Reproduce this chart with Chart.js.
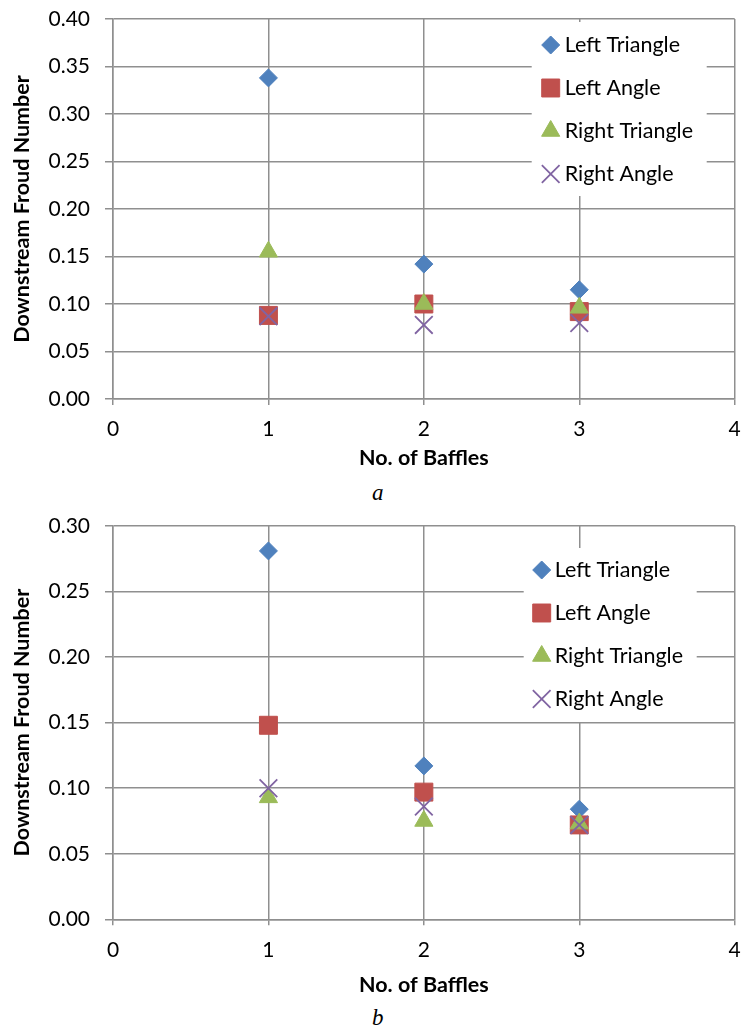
<!DOCTYPE html>
<html>
<head>
<meta charset="utf-8">
<script src="https://cdn.jsdelivr.net/npm/chart.js@4.4.1/dist/chart.umd.min.js"></script>
<style>
  body { margin: 0; background: #fff; width: 749px; height: 1032px; position: relative; overflow: hidden; }
  .panel { position: absolute; left: 0; width: 749px; }
  .cap { position: absolute; font-family: 'Liberation Serif', serif; font-style: italic; font-size: 23px; line-height: 23px; color: #000; }
</style>
</head>
<body>
<div class="panel" style="top:0;height:475px"><canvas id="chartA" width="749" height="475"></canvas></div>
<div class="cap" style="left:372px;top:481px">a</div>
<div class="panel" style="top:507px;height:495px"><canvas id="chartB" width="749" height="495"></canvas></div>
<div class="cap" style="left:372px;top:1006px">b</div>

<script>
// x values (number of baffles) and series names
const baffles = [1, 2, 3];
const seriesNames = ['Left Triangle', 'Left Angle', 'Right Triangle', 'Right Angle'];

// panel a
const leftTriangleA = [0.338, 0.142, 0.115];
const leftAngleA = [0.088, 0.100, 0.092];
const rightTriangleA = [0.155, 0.100, 0.096];
const rightAngleA = [0.087, 0.078, 0.080];

// panel b
const leftTriangleB = [0.281, 0.117, 0.084];
const leftAngleB = [0.148, 0.097, 0.072];
const rightTriangleB = [0.093, 0.075, 0.073];
const rightAngleB = [0.100, 0.086, 0.072];

const xTicks = [0, 1, 2, 3, 4];
const yMaxA = 0.40;
const yMaxB = 0.30;
const yStep = 0.05;

const gridColor = '#8f8f8f';
const tickFont = { family: 'Lato', size: 21 };
const titleFont = { family: 'Lato', size: 21.5, weight: 'bold' };

// marker look for each series (Excel 2007 style)
const markerStyles = [
    { pointStyle: 'rectRot', pointRadius: 9, pointBackgroundColor: '#4f81bd', pointBorderColor: '#4f81bd', pointBorderWidth: 1 },
    { pointStyle: 'rect', pointRadius: 12.7, pointBackgroundColor: '#c0504d', pointBorderColor: '#c0504d', pointBorderWidth: 1 },
    { pointStyle: 'triangle', pointRadius: 10.5, pointBackgroundColor: '#9bbb59', pointBorderColor: '#9bbb59', pointBorderWidth: 1 },
    { pointStyle: 'crossRot', pointRadius: 12.5, pointBackgroundColor: '#8064a2', pointBorderColor: '#8064a2', pointBorderWidth: 1.8 }
];

function toPoints(values) {
    return values.map((v, i) => ({ x: baffles[i], y: v }));
}

function buildDatasets(seriesList) {
    // later series are painted on top, as in the original
    return seriesList.map((values, i) => Object.assign({
        label: seriesNames[i],
        data: toPoints(values),
        order: seriesList.length - i
    }, markerStyles[i]));
}

// legend drawn inside the plot on a white box, like the original
const boxLegend = {
    id: 'boxLegend',
    afterDraw(chart, args, opts) {
        const ctx = chart.ctx;
        const area = chart.chartArea;
        const left = area.right - opts.right - opts.width;
        const top = area.top + opts.top;
        ctx.save();
        ctx.fillStyle = '#ffffff';
        ctx.fillRect(left, top, opts.width, opts.height);
        chart.data.datasets.forEach((ds, i) => {
            const y = top + opts.firstRow + i * opts.rowGap;
            ctx.fillStyle = ds.pointBackgroundColor;
            ctx.strokeStyle = ds.pointBorderColor;
            ctx.lineWidth = ds.pointBorderWidth;
            Chart.helpers.drawPoint(ctx, {
                pointStyle: ds.pointStyle,
                radius: ds.pointRadius,
                borderWidth: ds.pointBorderWidth,
                rotation: 0
            }, left + opts.markerX, y);
            ctx.fillStyle = '#000000';
            ctx.font = opts.font;
            ctx.textBaseline = 'middle';
            ctx.textAlign = 'left';
            ctx.fillText(ds.label, left + opts.textX, y);
        });
        ctx.restore();
    }
};

function makeChart(canvasId, seriesList, yMax, xAxisHeight, legendOpts) {
    const ctx = document.getElementById(canvasId).getContext('2d');
    return new Chart(ctx, {
        type: 'scatter',
        data: { datasets: buildDatasets(seriesList) },
        options: {
            responsive: false,
            animation: false,
            devicePixelRatio: 1,
            layout: { padding: { left: 0, right: 6, top: 19, bottom: 0 } },
            plugins: {
                legend: { display: false },
                tooltip: { enabled: false },
                boxLegend: legendOpts
            },
            scales: {
                x: {
                    type: 'linear',
                    min: xTicks[0],
                    max: xTicks[xTicks.length - 1],
                    afterBuildTicks: axis => { axis.ticks = xTicks.map(v => ({ value: v })); },
                    afterFit: axis => {
                        axis.height = xAxisHeight;
                        axis.paddingLeft = 0;
                        axis.paddingRight = 0;
                    },
                    grid: { color: gridColor, lineWidth: 1.5, tickLength: 6 },
                    border: { color: gridColor, width: 1.5 },
                    ticks: { color: '#000', font: tickFont, padding: 12, maxRotation: 0 },
                    title: { display: true, text: 'No. of Baffles', color: '#000', font: titleFont, padding: { top: 4, bottom: 4 } }
                },
                y: {
                    min: 0,
                    max: yMax,
                    ticks: {
                        stepSize: yStep,
                        color: '#000',
                        font: tickFont,
                        padding: 15,
                        callback: v => v.toFixed(2)
                    },
                    afterFit: axis => {
                        axis.width = 113;
                        axis.paddingTop = 0;
                        axis.paddingBottom = 0;
                    },
                    grid: { color: gridColor, lineWidth: 1.5, tickLength: 8 },
                    border: { color: gridColor, width: 1.5 },
                    title: { display: true, text: 'Downstream Froud Number', color: '#000', font: titleFont, padding: { top: 9, bottom: 4 } }
                }
            }
        },
        plugins: [boxLegend]
    });
}

makeChart('chartA', [leftTriangleA, leftAngleA, rightTriangleA, rightAngleA], yMaxA, 76, {
    right: 28, top: 3, width: 175, height: 174, firstRow: 23, rowGap: 43,
    markerX: 19, textX: 33, font: '21.5px Lato'
});

makeChart('chartB', [leftTriangleB, leftAngleB, rightTriangleB, rightAngleB], yMaxB, 82.7, {
    right: 38, top: 22, width: 173, height: 174, firstRow: 22, rowGap: 43,
    markerX: 18, textX: 31, font: '21.5px Lato'
});
</script>
</body>
</html>
